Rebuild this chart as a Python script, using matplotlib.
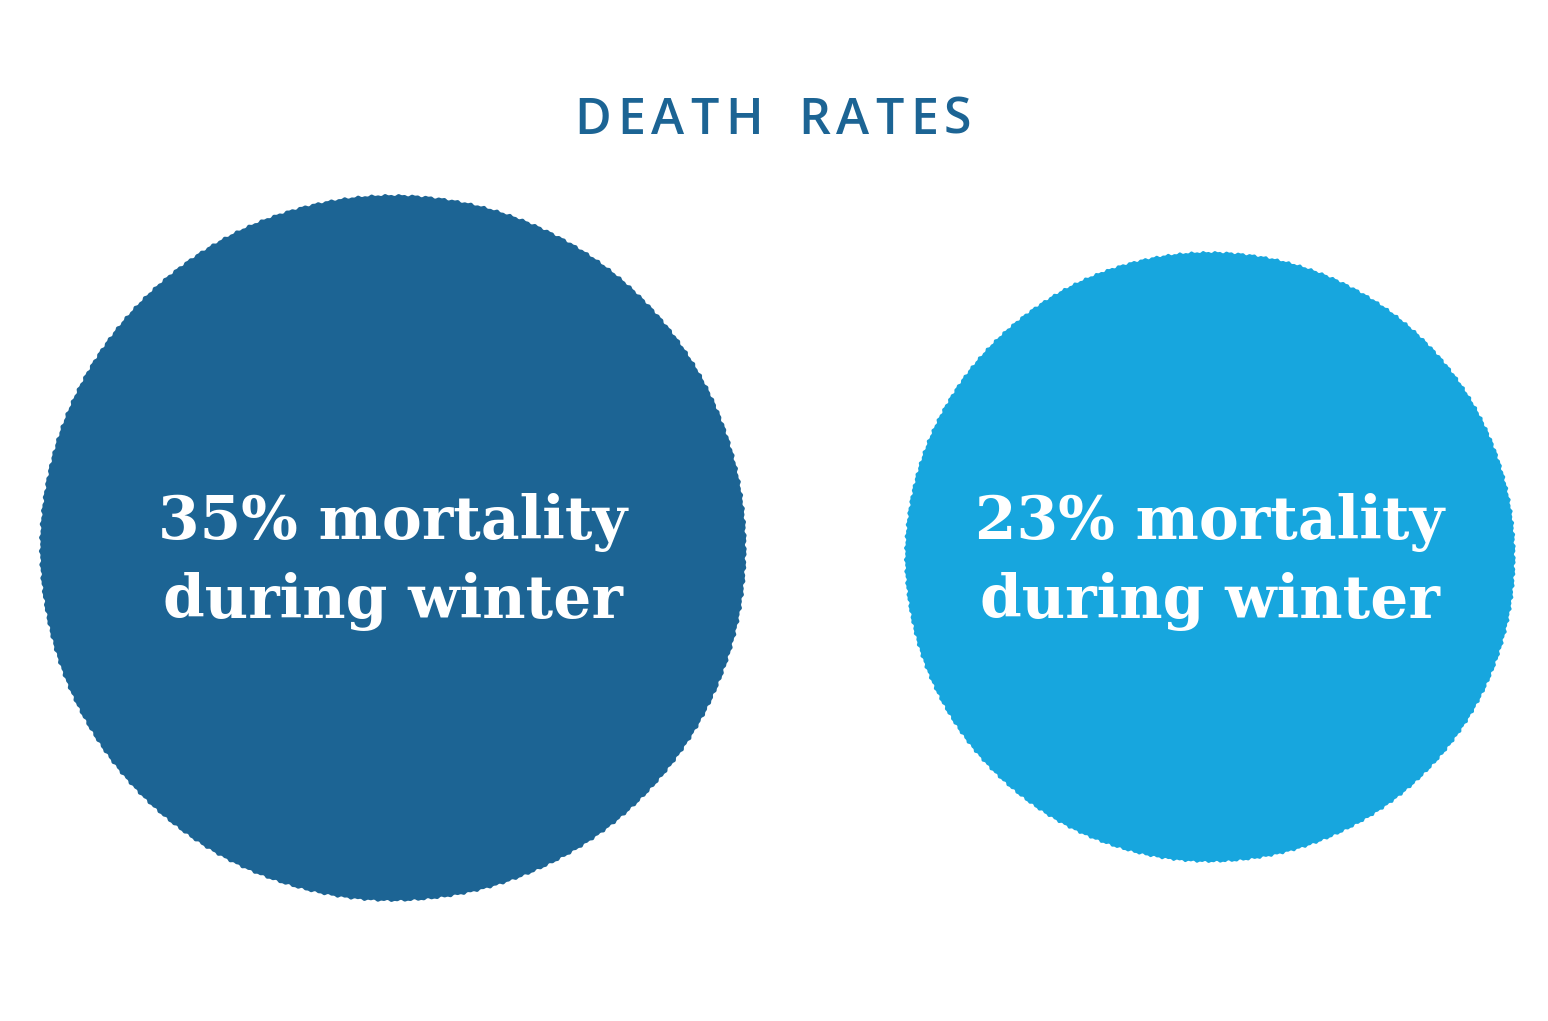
import matplotlib
matplotlib.use("Agg")
import numpy as np
import matplotlib.pyplot as plt
from matplotlib.patches import Polygon

# Data
line1 = ["35% mortality", "23% mortality"]
line2 = ["during winter", "during winter"]
values = [35, 23]
colors = ["#1c6494", "#17a6de"]
title = "DEATH RATES"

W, H = 1548, 1021
fig = plt.figure(figsize=(W / 100, H / 100), dpi=100)
ax = fig.add_axes([0, 0, 1, 1])
ax.set_xlim(0, W)
ax.set_ylim(H, 0)
ax.set_aspect("equal")
ax.axis("off")

# radius scale (px) and circle centres
def radius(v):
    return 213 + 4 * v

centres = [(393, 548), (1210, 557)]

# slightly ragged edge, like the circles in the original
theta = np.linspace(0, 2 * np.pi, 3000)
wobble = 0.6 * np.sin(157 * theta) + 0.5 * np.sin(331 * theta + 1.3)

for (cx, cy), v, l1, l2, col in zip(centres, values, line1, line2, colors):
    rr = radius(v) + wobble
    pts = np.column_stack([cx + rr * np.cos(theta), cy + rr * np.sin(theta)])
    ax.add_patch(Polygon(pts, closed=True, facecolor=col, edgecolor="none"))
    for txt, base in [(l1, 539), (l2, 618)]:
        ax.text(cx, base, txt, ha="center", va="baseline", color="white",
                fontsize=43, fontweight="bold", family="DejaVu Serif")

# letter-spaced title
fig.canvas.draw()
r = fig.canvas.get_renderer()
tracking = 6
fs = 36
widths = []
for ch in title:
    if ch == " ":
        widths.append(24)
        continue
    t = ax.text(0, 0, ch, fontsize=fs, family="Open Sans", fontweight="semibold")
    widths.append(t.get_window_extent(r).width)
    t.remove()
total = sum(widths) + tracking * (len(title) - 1)
x = 773 - total / 2
for ch, w in zip(title, widths):
    if ch != " ":
        ax.text(x, 134, ch, fontsize=fs, family="Open Sans", color="#1c6494",
                ha="left", va="baseline", fontweight="semibold")
    x += w + tracking

fig.savefig("out.png", dpi=100, facecolor="white")
